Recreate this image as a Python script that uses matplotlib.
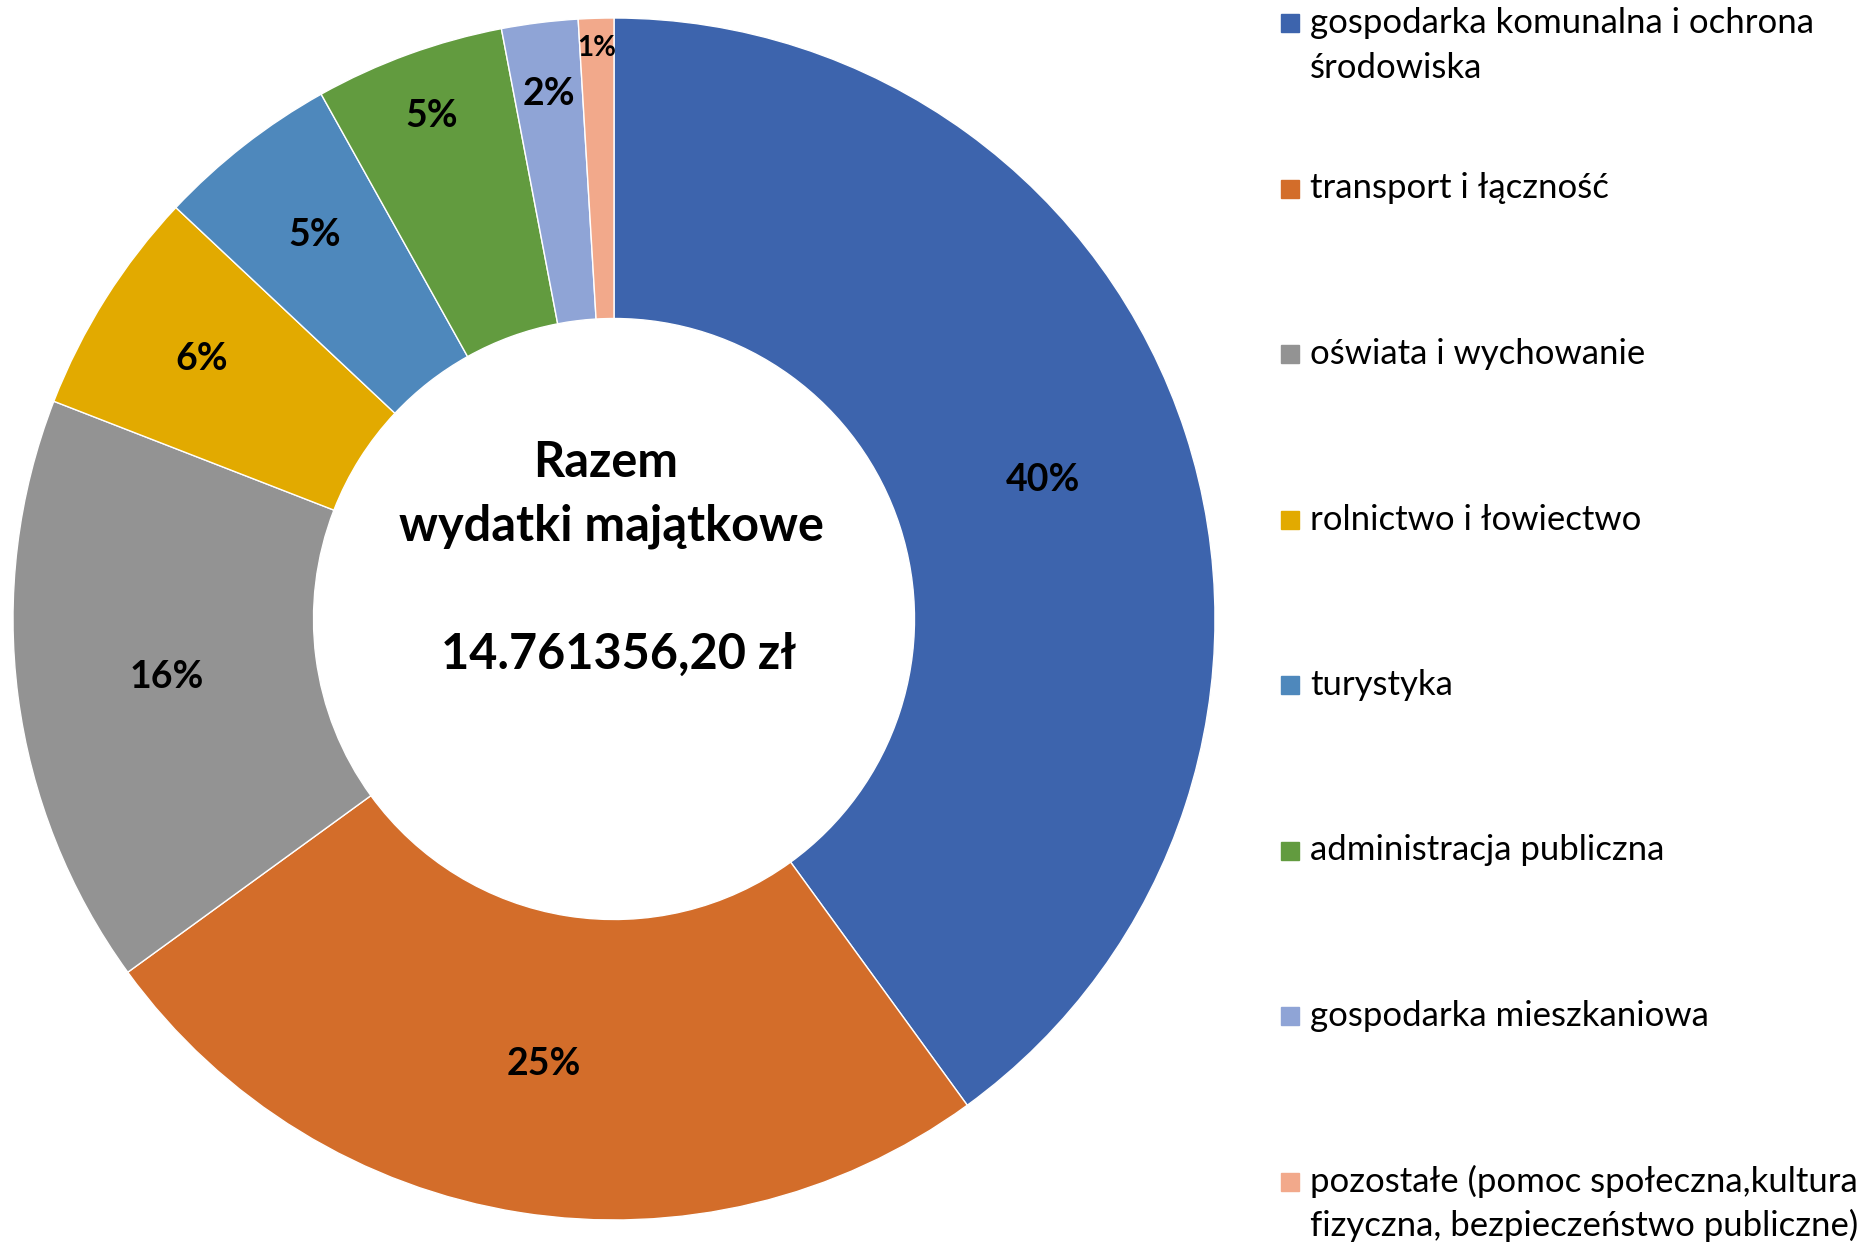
"""Donut chart of capital expenditure shares."""

import matplotlib
matplotlib.use('Agg')
from matplotlib import pyplot
from matplotlib.patches import Rectangle
import numpy

# Data.
categories = [
    'gospodarka komunalna i ochrona\nśrodowiska',
    'transport i łączność',
    'oświata i wychowanie',
    'rolnictwo i łowiectwo',
    'turystyka',
    'administracja publiczna',
    'gospodarka mieszkaniowa',
    'pozostałe (pomoc społeczna,kultura\nfizyczna, bezpieczeństwo publiczne)',
]
shares = [40.0, 25.0, 15.9, 6.1, 4.9, 5.1, 2.05, 0.95]
colors = ['#3D64AD', '#D36D2A', '#939393', '#E2AA00',
          '#4E88BC', '#629B3F', '#8FA4D6', '#F2A98B']
title_lines = ['Razem', 'wydatki majątkowe']
total_label = '14.761356,20 zł'

# Label distance from centre (fraction of outer radius) and size per slice.
label_dist = [0.75, 0.75, 0.75, 0.81, 0.81, 0.89, 0.88, 0.95]
label_size = [27, 27, 27, 27, 27, 27, 27, 20]

pyplot.rcParams['font.family'] = ['Lato', 'DejaVu Sans']

W, H = 1862, 1245
fig = pyplot.figure(figsize=(W / 100, H / 100), dpi=100)

# Donut axes: centre at (614, 619) px, outer radius 601 px.
cx, cy, R = 614, 619, 601
ax = fig.add_axes([(cx - R) / W, (H - cy - R) / H, 2 * R / W, 2 * R / H])
wedges, _ = ax.pie(shares, colors=colors, startangle=90, counterclock=False,
                   radius=1.0, wedgeprops=dict(width=0.5, edgecolor='white',
                                               linewidth=1.0))
ax.set_xlim(-1, 1)
ax.set_ylim(-1, 1)
ax.set_aspect('equal')
ax.axis('off')

for w, val, d, s in zip(wedges, shares, label_dist, label_size):
    ang = numpy.deg2rad((w.theta1 + w.theta2) / 2)
    ax.text(d * numpy.cos(ang), d * numpy.sin(ang), f'{round(val):.0f}%',
            ha='center', va='center', fontsize=s, fontweight='bold')

# Centre text.
ax.text(-0.014, 0.26, title_lines[0], ha='center', va='center',
        fontsize=35, fontweight='bold')
ax.text(-0.004, 0.155, title_lines[1], ha='center', va='center',
        fontsize=35, fontweight='bold')
ax.text(0.007, -0.058, total_label, ha='center', va='center',
        fontsize=35, fontweight='bold')

# Legend drawn by hand so the swatch lines up with the first text line.
x_sq, sq = 1281, 18
y0, dy, line_pitch = 23, 165.5, 45
for i, (lab, col) in enumerate(zip(categories, colors)):
    y = y0 + i * dy
    fig.patches.append(Rectangle((x_sq / W, (H - y - sq / 2) / H),
                                 sq / W, sq / H, color=col,
                                 transform=fig.transFigure, figure=fig))
    for j, line in enumerate(lab.split('\n')):
        fig.text((x_sq + 29) / W, (H - y - 10 - j * line_pitch) / H, line,
                 ha='left', va='baseline', fontsize=25)

fig.savefig('out.png', dpi=100)
